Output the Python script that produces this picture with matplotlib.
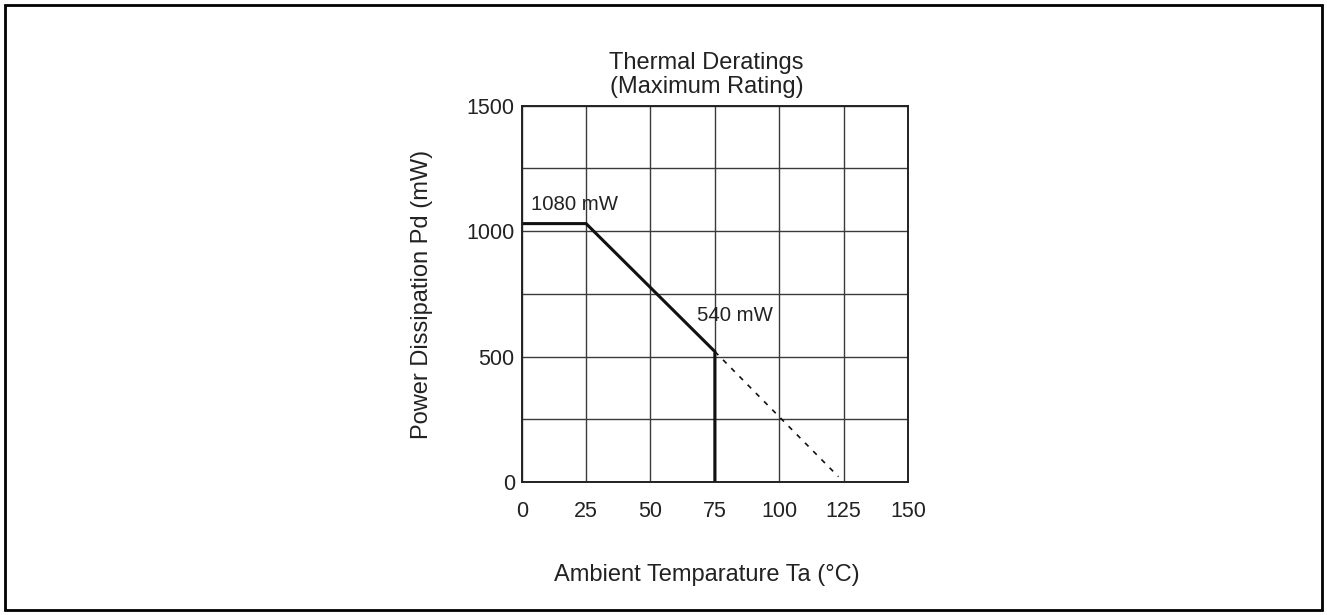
import matplotlib.pyplot as plt
from matplotlib.patches import Rectangle

plt.rcParams['font.family'] = ['Liberation Sans', 'DejaVu Sans']

# derating curve
temp_solid = [0, 25, 75, 75]
power_solid = [1030, 1030, 520, 0]
temp_dash = [75, 123]
power_dash = [520, 21]

x_ticks = [0, 25, 50, 75, 100, 125, 150]
y_ticks = [0, 500, 1000, 1500]
y_grid = [0, 250, 500, 750, 1000, 1250, 1500]

fig = plt.figure(figsize=(13.27, 6.15), dpi=100)
ax = fig.add_axes([521.7 / 1327, 1 - 482 / 615, 386.3 / 1327, 376.3 / 615])

ax.set_xlim(0, 150)
ax.set_ylim(0, 1500)
ax.set_xticks(x_ticks)
ax.set_yticks(y_ticks)
ax.set_yticks(y_grid, minor=True)
ax.tick_params(which='both', length=0, labelsize=15.5, colors='#222222')
ax.tick_params(axis='x', pad=14)
ax.tick_params(axis='y', pad=5)
ax.grid(True, which='both', color='#3a3a3a', linewidth=1.0)
ax.set_axisbelow(True)
for s in ax.spines.values():
    s.set_linewidth(1.4)
    s.set_color('#222222')

ax.plot(temp_solid, power_solid, color='#111111', linewidth=2.2, solid_joinstyle='miter')
ax.plot(temp_dash, power_dash, color='#111111', linewidth=1.2, linestyle=(0, (3, 4)))

ax.text(3.8, 1085, '1080 mW', fontsize=14.7, color='#222222', ha='left', va='baseline')
ax.text(67.9, 643, '540 mW', fontsize=14.7, color='#222222', ha='left', va='baseline')

fig.text(706.5 / 1327, 1 - 63 / 615, 'Thermal Deratings',
         ha='center', va='center', fontsize=17, color='#222222')
fig.text(706.5 / 1327, 1 - 87 / 615, '(Maximum Rating)',
         ha='center', va='center', fontsize=17, color='#222222')
fig.text(421.7 / 1327, 1 - 294 / 615, 'Power Dissipation Pd (mW)', rotation=90,
         ha='center', va='center', fontsize=17, color='#222222')
fig.text(707 / 1327, 1 - 575 / 615, 'Ambient Temparature Ta (°C)',
         ha='center', va='center', fontsize=17, color='#222222')

fig.patches.append(Rectangle((5 / 1327, 5 / 615), 1 - 10 / 1327, 1 - 10 / 615,
                             transform=fig.transFigure, fill=False,
                             edgecolor='black', linewidth=2.0))

fig.savefig('out.png', dpi=100)
